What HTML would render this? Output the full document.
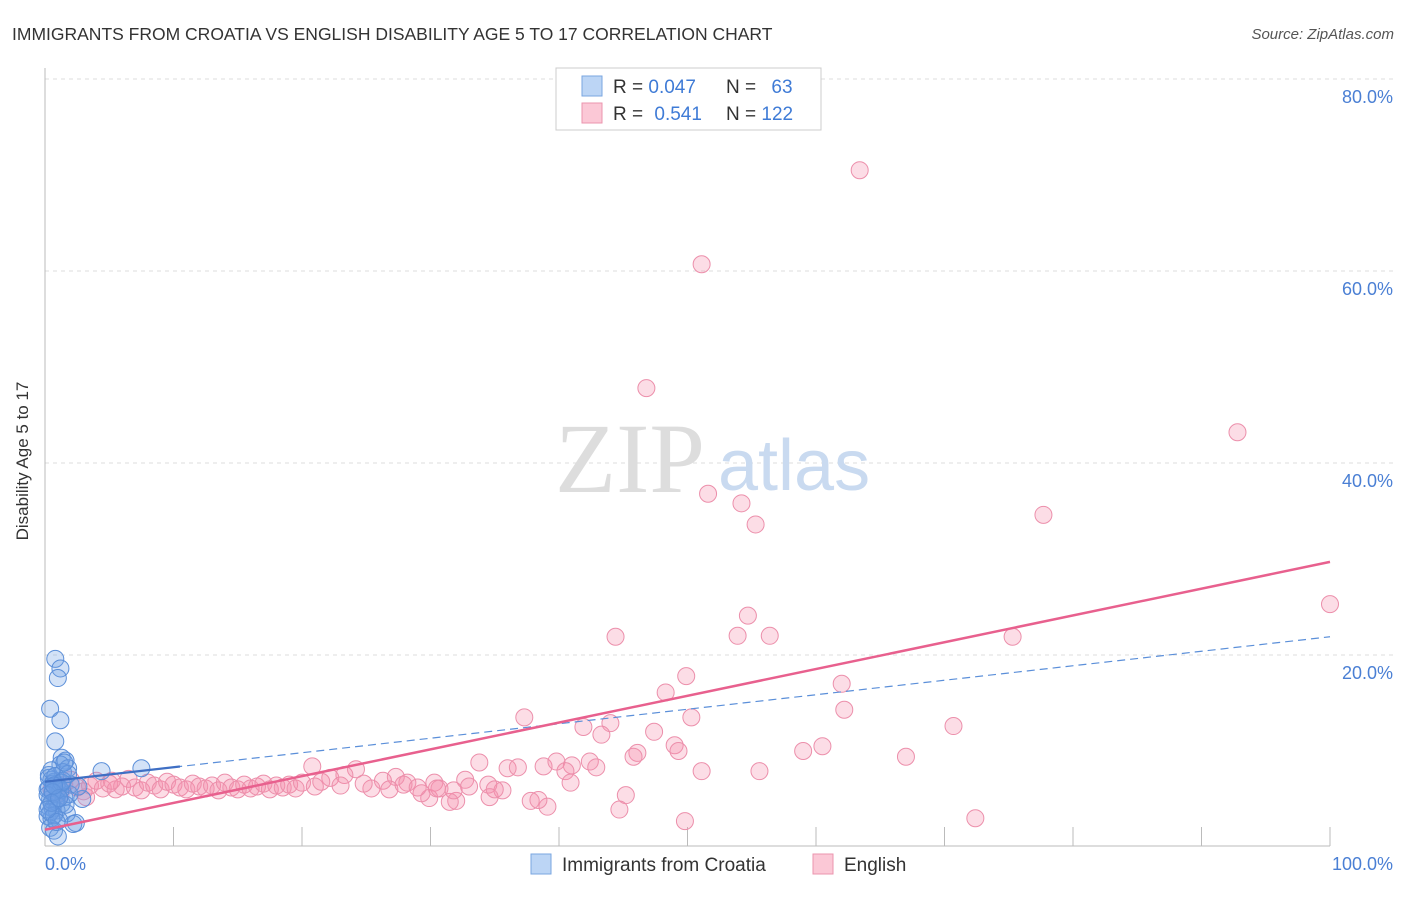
<!DOCTYPE html>
<html><head><meta charset="utf-8"><style>
body{margin:0;background:#fff;font-family:"Liberation Sans",sans-serif}
</style></head><body>
<svg width="1406" height="892" xmlns="http://www.w3.org/2000/svg" style="font-family:'Liberation Sans',sans-serif">
<text x="12" y="40" font-size="17.5" fill="#333">IMMIGRANTS FROM CROATIA VS ENGLISH DISABILITY AGE 5 TO 17 CORRELATION CHART</text>
<text x="1394" y="39" font-size="15" fill="#555" font-style="italic" text-anchor="end">Source: ZipAtlas.com</text>
<g id="grid"></g>
<text x="555" y="492" font-size="100" fill="#ddd" font-family="Liberation Serif,serif">ZIP</text>
<text x="718" y="490" font-size="72" fill="#c9daf0">atlas</text>
<line x1="45" y1="68" x2="45" y2="846" stroke="#bbb"/>
<line x1="45" y1="846" x2="1330" y2="846" stroke="#bbb"/>
<g id="ticks"></g>
<g id="pts"></g>
<g id="trend"></g>
<text x="22" y="455" font-size="17" fill="#333" text-anchor="middle" transform="rotate(-90 28 455)">Disability Age 5 to 17</text>
<text x="45" y="870" font-size="18" fill="#4a7fd4">0.0%</text>
<text x="1393" y="870" font-size="18" fill="#4a7fd4" text-anchor="end">100.0%</text>
<g>
<rect x="556" y="68" width="265" height="62" fill="#fff" stroke="#ccc"/>
<rect x="582" y="76" width="20" height="20" fill="#bcd5f5" stroke="#7aa6e0"/>
<rect x="582" y="103" width="20" height="20" fill="#fbc8d6" stroke="#eb94ae"/>
<text x="613" y="93" font-size="19" fill="#333">R = <tspan fill="#3f7bd6">0.047</tspan></text>
<text x="726" y="93" font-size="19" fill="#333">N = <tspan fill="#3f7bd6" dx="10">63</tspan></text>
<text x="613" y="120" font-size="19" fill="#333">R = <tspan fill="#3f7bd6" dx="6">0.541</tspan></text>
<text x="726" y="120" font-size="19" fill="#333">N = <tspan fill="#3f7bd6">122</tspan></text>
</g>
<g>
<rect x="531" y="854" width="20" height="20" fill="#bcd5f5" stroke="#7aa6e0"/>
<text x="562" y="871" font-size="19" fill="#333">Immigrants from Croatia</text>
<rect x="813" y="854" width="20" height="20" fill="#fbc8d6" stroke="#eb94ae"/>
<text x="844" y="871" font-size="19" fill="#333">English</text>
</g>
</svg>
<script>
const yTicks=[20,40,60,80];
const yTickLabels=["20.0%","40.0%","60.0%","80.0%"];
const xTicks=[0,10,20,30,40,50,60,70,80,90,100];
const blueX=[0.8,1.2,1.0,0.4,1.2,0.8,7.5,4.4,1.3,1.6,1.2,1.8,2.4,2.9,0.3,0.5,0.7,0.9,1.1,1.4,0.2,0.6,1.0,1.5,2.0,0.4,0.8,1.3,0.3,0.6,0.9,1.7,0.2,0.5,1.1,2.2,0.4,0.7,1.0,1.9,0.3,0.6,1.2,0.5,0.8,1.4,2.6,0.2,0.9,1.6,0.4,0.7,1.0,0.3,1.3,0.6,0.5,1.8,0.9,0.2,1.1,0.7,1.5];
const blueY=[19.6,18.6,17.6,14.4,13.2,11.0,8.2,7.9,9.3,9.0,8.6,8.2,2.5,5.0,7.5,7.0,6.8,6.5,6.2,7.8,6.0,5.8,5.5,5.2,6.5,5.0,4.8,4.5,4.2,4.0,3.8,3.5,3.2,3.0,2.8,2.4,2.0,1.7,6.0,5.5,7.2,6.6,5.9,8.0,7.4,6.9,6.3,5.4,4.9,4.4,3.6,3.3,1.1,6.1,6.7,5.7,4.6,7.6,2.6,3.9,5.1,6.4,8.8];
const pinkX=[63.4,51.1,46.8,51.6,54.2,55.3,92.8,77.7,100,44.4,54.7,53.9,56.4,75.3,49.9,48.3,62.0,62.2,37.3,50.3,70.7,41.9,44.0,43.3,47.4,49.0,49.3,46.1,45.8,59.0,60.5,67.0,33.8,36.0,36.8,38.8,39.8,41.0,42.4,42.9,40.5,51.1,55.6,40.9,45.2,44.7,49.8,72.4,32.7,34.5,35.6,34.6,37.8,39.1,38.4,32.0,29.9,31.5,29.3,30.3,30.7,28.2,27.3,26.3,25.4,24.2,23.3,20.8,22.2,
0.5,1.0,1.5,2.0,2.5,3.0,3.5,4.0,4.5,5.0,5.5,6.0,6.5,7.0,7.5,8.0,8.5,9.0,9.5,10.0,10.5,11.0,11.5,12.0,12.5,13.0,13.5,14.0,14.5,15.0,15.5,16.0,16.5,17.0,17.5,18.0,18.5,19.0,19.5,20.0,21.0,21.5,23.0,24.8,26.8,27.9,29.0,30.5,31.8,33.0,35.0,1.2,3.2,5.2];
const pinkY=[70.5,60.7,47.8,36.8,35.8,33.6,43.2,34.6,25.3,21.9,24.1,22.0,22.0,21.9,17.8,16.1,17.0,14.3,13.5,13.5,12.6,12.5,12.9,11.7,12.0,10.6,10.0,9.8,9.4,10.0,10.5,9.4,8.8,8.2,8.3,8.4,8.9,8.5,8.9,8.3,7.9,7.9,7.9,6.7,5.4,3.9,2.7,3.0,7.0,6.5,5.9,5.2,4.8,4.2,4.9,4.8,5.1,4.7,5.6,6.7,6.1,6.7,7.3,6.9,6.1,8.1,7.5,8.4,7.2,
6.0,5.6,6.5,7.0,6.2,5.8,6.4,6.9,6.1,6.6,6.0,6.3,7.1,6.2,5.9,6.7,6.4,6.0,6.8,6.5,6.2,6.0,6.6,6.3,6.1,6.4,5.9,6.7,6.2,6.0,6.5,6.1,6.3,6.6,6.0,6.4,6.2,6.5,6.1,6.7,6.3,6.8,6.4,6.6,6.0,6.5,6.2,6.1,5.9,6.3,6.0,5.4,5.2,6.9];
const blueTrend=[6.8,21.9];
const pinkTrend=[1.8,29.7];
const blueSolidEnd=10.5;
const NS='http://www.w3.org/2000/svg';
const sx=v=>45+v*12.85, sy=v=>847-v*9.6;
function mk(tag,attrs,parent){const e=document.createElementNS(NS,tag);for(const k in attrs)e.setAttribute(k,attrs[k]);document.getElementById(parent).appendChild(e);return e;}
yTicks.forEach((t,i)=>{
 const l=mk('line',{x1:45,x2:1395,y1:sy(t),y2:sy(t),stroke:'#ddd','stroke-dasharray':'4,4'},'grid');
 
 
 const tx=mk('text',{x:1393,y:sy(t)+24,'font-size':18,fill:'#4a7fd4','text-anchor':'end'},'grid');
 tx.textContent=yTickLabels[i];
 
 
});
xTicks.forEach(t=>{
 const l=mk('line',{x1:sx(t),x2:sx(t),y1:827,y2:846,stroke:'#bbb'},'ticks');
 
 
});
pinkX.forEach((x,i)=>{
 const c=mk('circle',{cx:sx(x),cy:sy(pinkY[i]),r:8.5,fill:'rgba(244,143,172,0.3)',stroke:'#ec8fab','stroke-width':1},'pts');
 
 
});
blueX.forEach((x,i)=>{
 const c=mk('circle',{cx:sx(x),cy:sy(blueY[i]),r:8.5,fill:'rgba(110,160,230,0.3)',stroke:'#5b8fd9','stroke-width':1},'pts');
 
 
});
const bt=mk('line',{x1:sx(0),y1:sy(blueTrend[0]),x2:sx(100),y2:sy(blueTrend[1]),stroke:'#5b8fd9','stroke-width':1.2,'stroke-dasharray':'8,5'},'trend');


const bYe=blueTrend[0]+(blueTrend[1]-blueTrend[0])*blueSolidEnd/100;
const bs=mk('line',{x1:sx(0),y1:sy(blueTrend[0]),x2:sx(blueSolidEnd),y2:sy(bYe),stroke:'#3f6fc4','stroke-width':2.2},'trend');


const pt=mk('line',{x1:sx(0),y1:sy(pinkTrend[0]),x2:sx(100),y2:sy(pinkTrend[1]),stroke:'#e8608e','stroke-width':2.5},'trend');


</script>
</body></html>
